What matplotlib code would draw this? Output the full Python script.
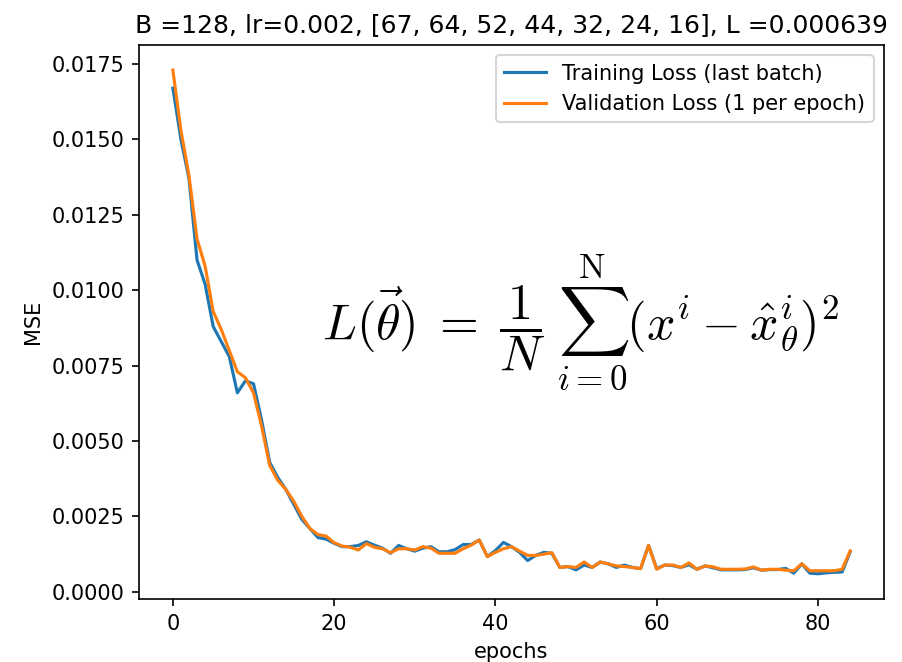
import numpy as np
import matplotlib
matplotlib.use("Agg")
import matplotlib.pyplot as plt

plt.rcParams['mathtext.fontset'] = 'cm'

epochs = list(range(85))

train_loss = [
    0.0167, 0.0150, 0.0137, 0.0110, 0.0102, 0.0088, 0.0083, 0.0078, 0.0066, 0.0070,
    0.0069, 0.0057, 0.0043, 0.0038, 0.0034, 0.0029, 0.0024, 0.0021, 0.0018, 0.00175,
    0.00161, 0.00150, 0.00150, 0.00154, 0.00166, 0.00155, 0.00145, 0.00128, 0.00154, 0.00143,
    0.00135, 0.00145, 0.00150, 0.00133, 0.00133, 0.00140, 0.00157, 0.00157, 0.00172, 0.00117,
    0.00137, 0.00164, 0.00150, 0.00131, 0.00104, 0.00121, 0.00131, 0.00128, 0.00081, 0.00084,
    0.00073, 0.00089, 0.00081, 0.00099, 0.00093, 0.00081, 0.00089, 0.00081, 0.00077, 0.00154,
    0.00077, 0.00089, 0.00087, 0.00081, 0.00090, 0.00075, 0.00086, 0.00080, 0.00073, 0.00073,
    0.00073, 0.00074, 0.00080, 0.00072, 0.00074, 0.00074, 0.00078, 0.00062, 0.00093, 0.00062,
    0.00060, 0.00063, 0.00065, 0.00066, 0.00133,
]

val_loss = [
    0.0173, 0.0153, 0.0138, 0.0117, 0.0108, 0.0093, 0.0087, 0.0080, 0.0073, 0.0071,
    0.0066, 0.0055, 0.0042, 0.0037, 0.0034, 0.0030, 0.0025, 0.0021, 0.0019, 0.00185,
    0.00163, 0.00152, 0.00148, 0.00139, 0.00160, 0.00148, 0.00143, 0.00130, 0.00143, 0.00143,
    0.00139, 0.00150, 0.00145, 0.00128, 0.00128, 0.00128, 0.00143, 0.00155, 0.00172, 0.00117,
    0.00131, 0.00143, 0.00150, 0.00135, 0.00121, 0.00121, 0.00125, 0.00130, 0.00081, 0.00084,
    0.00081, 0.00099, 0.00081, 0.00099, 0.00093, 0.00086, 0.00084, 0.00081, 0.00077, 0.00154,
    0.00075, 0.00089, 0.00089, 0.00081, 0.00096, 0.00075, 0.00086, 0.00083, 0.00075, 0.00075,
    0.00075, 0.00076, 0.00083, 0.00072, 0.00075, 0.00075, 0.00072, 0.00070, 0.00093, 0.00070,
    0.00070, 0.00070, 0.00070, 0.00075, 0.00136,
]

title = "B =128, lr=0.002, [67, 64, 52, 44, 32, 24, 16], L =0.000639"
equation = (r"$L(\vec{\theta})\;=\;\dfrac{1}{N}\;\sum_{i=0}^{\mathrm{N}}"
            r"(x^i - \hat{x}^i_\theta)^2$")

fig = plt.figure(figsize=(902 / 150, 662 / 150), dpi=150)
ax = fig.add_axes([0.1541, 0.0952, 0.826, 0.837])

ax.plot(epochs, train_loss, color='#1f77b4', label='Training Loss (last batch)')
ax.plot(epochs, val_loss, color='#ff7f0e', label='Validation Loss (1 per epoch)')

ax.set_xlabel('epochs')
ax.set_ylabel('MSE')
ax.set_title(title)
ax.legend(loc='upper right')

ax.text(0.593, 0.50, equation, transform=ax.transAxes, fontsize=24,
        ha='center', va='center')

fig.savefig('out.png', dpi=150)
